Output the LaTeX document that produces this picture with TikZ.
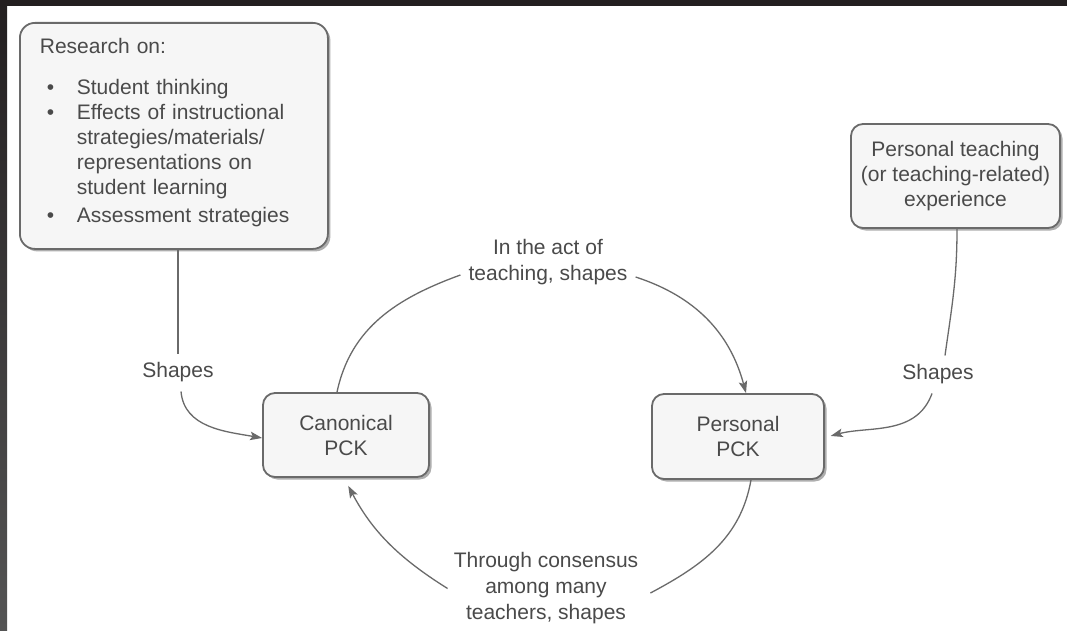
\documentclass[tikz,border=0pt]{standalone}
\usepackage{fontspec}
\setmainfont{Liberation Sans}
\usetikzlibrary{arrows.meta,shadows}

\definecolor{ink}{HTML}{4A4A4A}
\definecolor{edgegray}{HTML}{6A6A6A}
\definecolor{framedark}{HTML}{231F20}
\definecolor{boxfill}{HTML}{F6F6F6}

\newcommand{\boxfont}{\fontsize{21}{25}\selectfont}
\newcommand{\labelfont}{\fontsize{21}{26}\selectfont}
\newcommand{\bulletline}{\hspace*{7pt}\makebox[30pt][l]{\textbullet}}
\newcommand{\contline}{\hspace*{37pt}}

\begin{document}
\begin{tikzpicture}[x=1pt,y=1pt,
  box/.style={draw=edgegray, line width=1.8pt, fill=boxfill, rounded corners=12pt,
    drop shadow={shadow xshift=2.5pt, shadow yshift=-2.5pt, fill=black!45, opacity=0.7},
    text=ink, align=center, font=\boxfont},
  lbl/.style={text=ink, align=center, inner sep=0pt, font=\labelfont},
  conn/.style={draw=edgegray, line width=1.3pt},
  arr/.style={conn, -{Stealth[length=12pt, width=8.5pt, inset=2.5pt]}}]

% page and dark frame
\useasboundingbox (0,0) rectangle (1067,-631);
\fill[white] (0,0) rectangle (1067,-631);
\shade[top color=framedark, bottom color=black!67] (0,0) rectangle (7,-631);
\fill[framedark] (0,0) rectangle (1067,-6);

% boxes
\node[box, rounded corners=15pt, anchor=north west, text width=268pt, inner xsep=20pt,
      minimum height=226pt, align=left] (research) at (19,-22)
  {Research on:\\[16pt]
   \bulletline Student thinking\\
   \bulletline Effects of instructional\\
   \contline strategies/materials/\\
   \contline representations on\\
   \contline student learning\\[3pt]
   \bulletline Assessment strategies\rule[-12pt]{0pt}{12pt}};

\node[box, minimum width=209pt, minimum height=104pt] (pte) at (955.5,-176)
  {Personal teaching\\(or teaching-related)\\experience};

\node[box, minimum width=166pt, minimum height=84pt] (canon) at (346,-435)
  {Canonical\\PCK};

\node[box, minimum width=172pt, minimum height=85pt] (ppck) at (738,-436.5)
  {Personal\\PCK};

% labels
\node[lbl, inner ysep=9pt] (shapesL) at (178,-372.5) {Shapes};
\node[lbl, inner ysep=9pt] (shapesR) at (938,-374.5) {Shapes};
\node[lbl] (act) at (548,-262.5) {In the act of\\teaching, shapes};
\node[lbl] (consensus) at (546,-588.5) {Through consensus\\among many\\teachers, shapes};

% connectors
\draw[conn] (research.south -| shapesL.north) -- (shapesL.north);
\draw[arr] ([xshift=3pt]shapesL.south) to[out=-85, in=170] ([yshift=-3pt]canon.west);

\draw[conn] ([xshift=1.5pt]pte.south) to[out=-90, in=82] ([xshift=7pt]shapesR.north);
\draw[arr, shorten >=6pt] ([xshift=-6pt]shapesR.south) to[out=-110, in=15] ([yshift=-1pt]ppck.east);

\draw[conn] ([xshift=-9pt]canon.north) to[out=78, in=200] ([shift={(-8pt,-12.5pt)}]act.west);
\draw[arr] ([shift={(8pt,-14.5pt)}]act.east) to[out=-18, in=105] ([xshift=8pt]ppck.north);

\draw[conn] ([xshift=13pt]ppck.south) to[out=-100, in=28] ([shift={(12pt,-4.5pt)}]consensus.east);
\draw[arr, shorten >=9pt] ([xshift=-6pt]consensus.west) to[out=148, in=-62] ([xshift=-2pt]canon.south);
\end{tikzpicture}
\end{document}
